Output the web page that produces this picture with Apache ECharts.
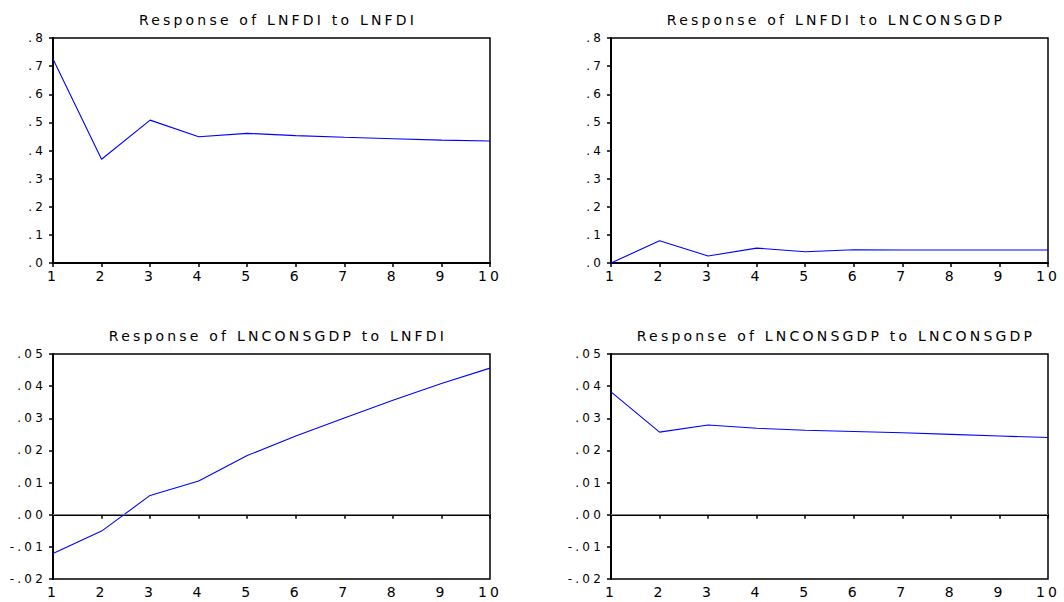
<!DOCTYPE html>
<html>
<head>
<meta charset="utf-8">
<title>Impulse responses</title>
<script src="https://cdn.jsdelivr.net/npm/echarts@6/dist/echarts.min.js"></script>
<style>
  * { margin: 0; padding: 0; }
  html, body { width: 1064px; height: 602px; background: #fff; }
  #main { width: 1064px; height: 602px; }
  /* EViews draws its text wide, spread the letters a bit */
  #main svg text { letter-spacing: 3.2px; }
</style>
</head>
<body>
<div id="main"></div>
<script>
var periods = ['1', '2', '3', '4', '5', '6', '7', '8', '9', '10']

var titles = [
  'Response of LNFDI to LNFDI',
  'Response of LNFDI to LNCONSGDP',
  'Response of LNCONSGDP to LNFDI',
  'Response of LNCONSGDP to LNCONSGDP'
]

var fdiToFdi = [0.725, 0.369, 0.508, 0.449, 0.461, 0.453, 0.447, 0.442, 0.437, 0.434]
var fdiToCons = [0.000, 0.079, 0.025, 0.053, 0.040, 0.047, 0.046, 0.046, 0.046, 0.046]
var consToFdi = [-0.0121, -0.0051, 0.0060, 0.0105, 0.0184, 0.0245, 0.0301, 0.0356, 0.0408, 0.0456]
var consToCons = [0.0382, 0.0257, 0.0279, 0.0269, 0.0263, 0.0259, 0.0255, 0.0250, 0.0245, 0.0240]

var topScale = { min: 0, max: 0.8, interval: 0.1, digits: 1 }
var bottomScale = { min: -0.02, max: 0.05, interval: 0.01, digits: 2 }

var FONT = 'DejaVu Sans'

var panels = [
  { left: 53, top: 38, height: 225, data: fdiToFdi, scale: topScale, zero: false },
  { left: 611, top: 38, height: 225, data: fdiToCons, scale: topScale, zero: false },
  { left: 53, top: 354, height: 225, data: consToFdi, scale: bottomScale, zero: true },
  { left: 611, top: 354, height: 225, data: consToCons, scale: bottomScale, zero: true }
]

// .8 / -.01 style labels, no leading zero
function eviewsLabel (digits) {
  return function (v) {
    var s = Number(v).toFixed(digits)
    if (Number(s) === 0) s = (0).toFixed(digits)
    return s.replace(/^(-?)0\./, '$1.')
  }
}

var grids = []
var xAxes = []
var yAxes = []
var series = []
var titleList = []

panels.forEach(function (p, i) {
  grids.push({
    left: p.left,
    top: p.top,
    width: 437,
    height: p.height,
    show: true,
    borderColor: '#000',
    borderWidth: 1.5,
    backgroundColor: '#fff',
    outerBoundsMode: 'none'
  })
  titleList.push({
    text: titles[i],
    left: p.left + 220,
    top: p.top - 30,
    textAlign: 'center',
    textStyle: { fontFamily: FONT, fontSize: 14, fontWeight: 'normal', color: '#000' }
  })
  xAxes.push({
    gridIndex: i,
    type: 'category',
    data: periods,
    boundaryGap: false,
    axisLine: { lineStyle: { color: '#000', width: 2 } },
    axisTick: { show: true, inside: false, length: 4, interval: 0, lineStyle: { color: '#000', width: 1.5 } },
    axisLabel: { interval: 0, margin: 6, fontFamily: FONT, fontSize: 14, color: '#000' },
    splitLine: { show: false }
  })
  yAxes.push({
    gridIndex: i,
    type: 'value',
    min: p.scale.min,
    max: p.scale.max,
    interval: p.scale.interval,
    axisLine: { show: true, lineStyle: { color: '#000', width: 2 } },
    axisTick: { show: true, inside: false, length: 4, lineStyle: { color: '#000', width: 1.5 } },
    axisLabel: { margin: 7, fontFamily: FONT, fontSize: 12, color: '#000', formatter: eviewsLabel(p.scale.digits) },
    splitLine: { show: false }
  })
  var s = {
    type: 'line',
    xAxisIndex: i,
    yAxisIndex: i,
    data: p.data,
    symbol: 'none',
    lineStyle: { color: '#0000ff', width: 1.1 },
    itemStyle: { color: '#0000ff' }
  }
  if (p.zero) {
    s.markLine = {
      silent: true,
      symbol: 'none',
      label: { show: false },
      lineStyle: { color: '#808080', width: 1, type: 'solid' },
      data: [{ yAxis: 0 }]
    }
  }
  series.push(s)
})

var myChart = echarts.init(document.getElementById('main'), null, { renderer: 'svg' })
myChart.setOption({
  animation: false,
  backgroundColor: '#fff',
  title: titleList,
  grid: grids,
  xAxis: xAxes,
  yAxis: yAxes,
  series: series
})
</script>
</body>
</html>
